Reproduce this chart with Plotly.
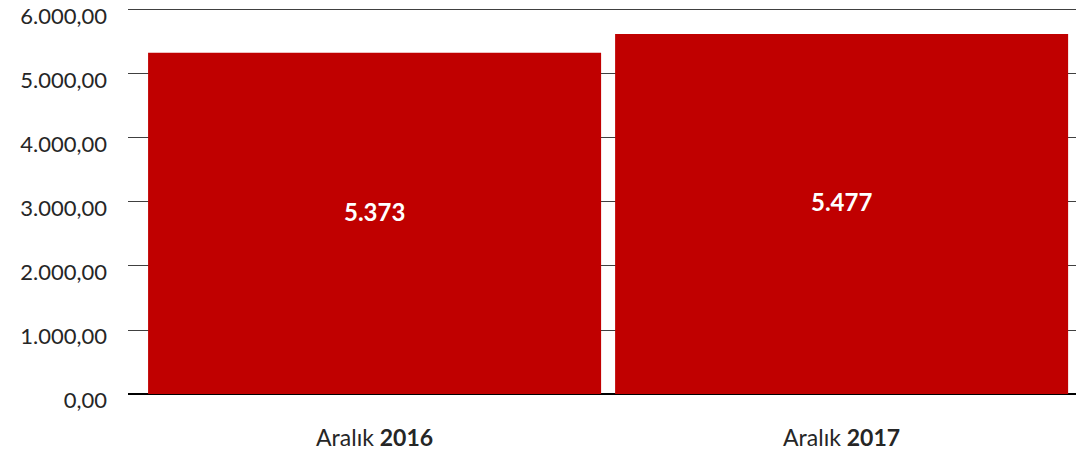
import plotly.graph_objects as go

categories = ["Aralık <b>2016</b>", "Aralık <b>2017</b>"]
values = [5330, 5625]
labels = ["5.373", "5.477"]
tick_vals = [0, 1000, 2000, 3000, 4000, 5000, 6000]

fig = go.Figure()
fig.add_trace(go.Bar(
    x=categories, y=values, marker_color="#C00000", marker_line_width=0,
    hoverinfo="skip",
))
for c, v, t in zip(categories, values, labels):
    fig.add_annotation(x=c, y=v * 0.535, text=f"<b>{t}</b>", showarrow=False,
                       font=dict(color="white", size=24, family="Lato"))

fig.update_layout(
    width=1076, height=445,
    margin=dict(l=120, r=0, t=0, b=59, autoexpand=False),
    paper_bgcolor="white", plot_bgcolor="white",
    separators=",.",
    bargap=0.03,
    showlegend=False,
    font=dict(family="Lato", size=24, color="#262626"),
)
fig.update_yaxes(range=[0, 6031], tickvals=tick_vals, tickformat=",.2f",
                 showgrid=True, gridcolor="#404040", gridwidth=1,
                 zeroline=True, zerolinecolor="#000000", zerolinewidth=2,
                 ticks="", ticklabelstandoff=20, automargin=False,
                 ticklabelshift=6, ticklabeloverflow="allow",
                 tickfont=dict(size=22, family="Lato", color="#262626"))
fig.update_xaxes(range=[-0.528, 1.519], showline=False, ticks="", automargin=False,
                 tickfont=dict(size=23, family="Lato", color="#262626"),
                 ticklabelstandoff=28)

fig.write_html("out.html")
